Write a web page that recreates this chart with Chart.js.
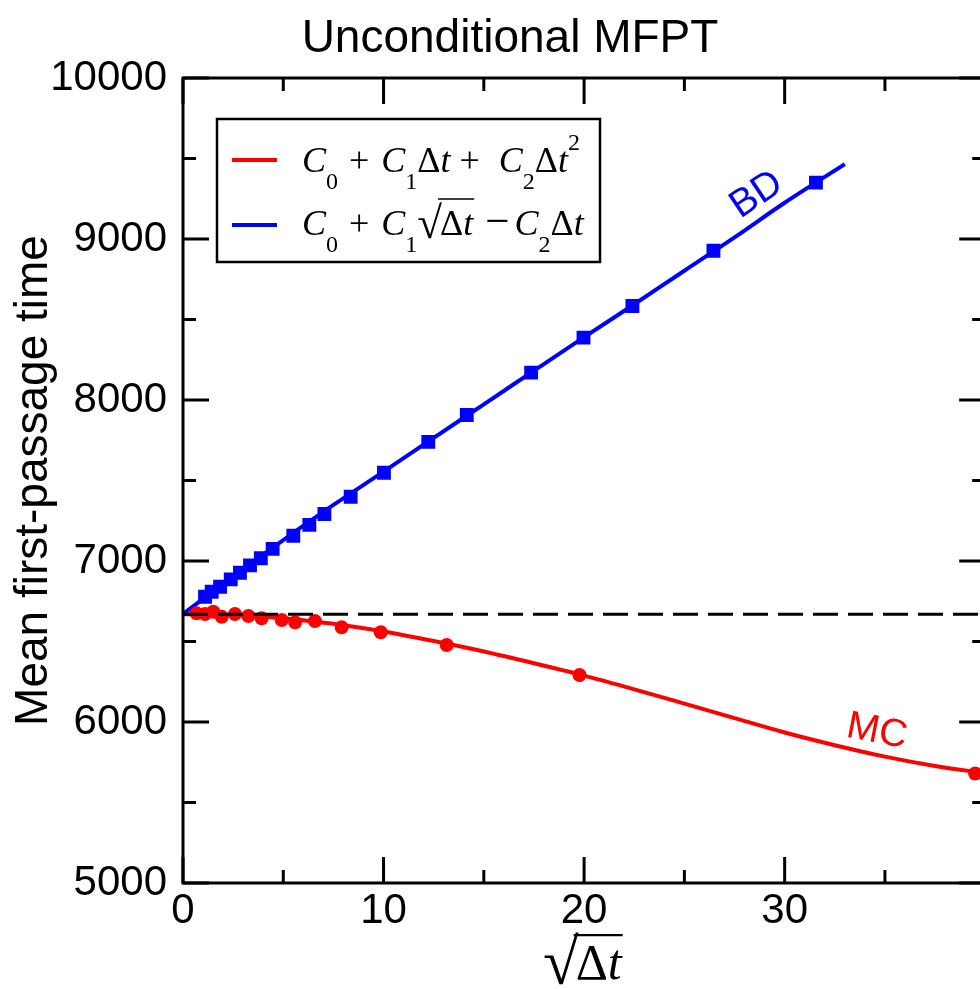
<!DOCTYPE html>
<html>
<head>
<meta charset="utf-8">
<title>Unconditional MFPT</title>
<script src="https://cdn.jsdelivr.net/npm/chart.js@4.4.0/dist/chart.umd.min.js"></script>
<style>
  html, body { margin: 0; padding: 0; background: #fff; overflow: hidden; }
  #wrap { width: 980px; height: 989px; overflow: hidden; }
  canvas { display: block; }
</style>
</head>
<body>
<div id="wrap"><canvas id="c" width="995" height="989"></canvas></div>
<script>
// x is sqrt(dt), y is the mean first-passage time
const bdX = [1.10, 1.43, 1.85, 2.38, 2.84, 3.34, 3.88, 4.47, 5.50, 6.30, 7.05, 8.36, 10.02, 12.23, 14.15, 17.36, 19.97, 22.41, 26.45, 31.56];
const bdY = [6778, 6809, 6840, 6886, 6927, 6973, 7017, 7075, 7157, 7224, 7292, 7399, 7548, 7740, 7907, 8170, 8387, 8584, 8927, 9350];

const mcX = [0.68, 1.10, 1.51, 1.93, 2.59, 3.26, 3.92, 4.92, 5.59, 6.58, 7.91, 9.86, 13.15, 19.77, 39.5];
const mcY = [6675, 6671, 6685, 6654, 6671, 6658, 6644, 6634, 6619, 6627, 6588, 6557, 6478, 6292, 5680];

// fitted curves
const bdFitX = [0, 2.5, 5, 7.5, 10, 12.5, 15, 17.5, 20, 22.5, 25, 27.5, 30, 33];
const bdFitY = [6670, 6905, 7130, 7348, 7555, 7765, 7973, 8182, 8390, 8595, 8803, 9010, 9225, 9465];

const mcFitX = [0, 2.5, 5, 7.5, 10, 12.5, 15, 17.5, 20, 22.5, 25, 27.5, 30, 32.5, 35, 37.5, 40];
const mcFitY = [6670, 6664, 6645, 6610, 6562, 6503, 6438, 6365, 6288, 6203, 6114, 6024, 5935, 5856, 5785, 5727, 5682];

// dt -> 0 limit (C0)
const c0X = [0, 40];
const c0Y = [6670, 6670];

const xTicks = [0, 10, 20, 30];
const yTicks = [5000, 6000, 7000, 8000, 9000, 10000];

const RED = '#ff0000';
const BLUE = '#0000ff';
const SANS = '"Liberation Sans", Arial, Helvetica, sans-serif';
const SERIF = '"Liberation Serif", "Times New Roman", serif';

const pts = (xs, ys) => xs.map((v, i) => ({x: v, y: ys[i]}));

// lays out a little formula: italic C, sub/superscripts, a radical with its bar
function drawMath(ctx, items, x0, base, big, small, barLift) {
  let x = x0;
  let barFrom = null;
  for (const it of items) {
    if (it.gap) { x += it.gap; continue; }
    const sub = it.pos === 'sub', sup = it.pos === 'sup';
    const size = ((sub || sup) ? small : big) * (it.scale || 1);
    ctx.font = (it.i ? 'italic ' : '') + size + 'px ' + SERIF;
    const dy = sub ? big * 0.47 : sup ? -big * 0.62 : (it.dy || 0);
    if (it.bar && barFrom === null) barFrom = x;
    ctx.fillText(it.t, x, base + dy);
    x += ctx.measureText(it.t).width + (it.kern || 0);
    if (it.endBar) {
      ctx.save();
      ctx.lineWidth = Math.max(1.5, big * 0.045);
      ctx.beginPath();
      ctx.moveTo(barFrom - 2, base - barLift);
      ctx.lineTo(x + 1, base - barLift);
      ctx.stroke();
      ctx.restore();
      barFrom = null;
    }
  }
  return x;
}

const formula1 = [
  {t: 'C', i: true}, {t: '0', pos: 'sub'}, {gap: 11}, {t: '+'}, {gap: 12},
  {t: 'C', i: true}, {t: '1', pos: 'sub'}, {t: 'Δ'}, {t: 't', i: true}, {gap: 9}, {t: '+'}, {gap: 19},
  {t: 'C', i: true}, {t: '2', pos: 'sub'}, {t: 'Δ'}, {t: 't', i: true}, {t: '2', pos: 'sup'}
];
const formula2 = [
  {t: 'C', i: true}, {t: '0', pos: 'sub'}, {gap: 11}, {t: '+'}, {gap: 12},
  {t: 'C', i: true}, {t: '1', pos: 'sub'}, {t: '√', scale: 1.25, dy: 3, kern: -2}, {t: 'Δ', bar: true}, {t: 't', i: true, endBar: true},
  {gap: 12}, {t: '−', scale: 1.2}, {gap: 5},
  {t: 'C', i: true}, {t: '2', pos: 'sub'}, {t: 'Δ'}, {t: 't', i: true}
];
const xTitle = [{t: '√', scale: 1.3, dy: 5, kern: -3}, {t: 'Δ', bar: true}, {t: 't', i: true, endBar: true}];

const decor = {
  id: 'decor',
  afterDraw(chart) {
    const {ctx, chartArea: a, scales: {x, y}} = chart;
    ctx.save();
    ctx.strokeStyle = '#000';
    ctx.fillStyle = '#000';
    ctx.lineWidth = 3;
    ctx.lineCap = 'butt';
    const seg = (x1, y1, x2, y2) => { ctx.beginPath(); ctx.moveTo(x1, y1); ctx.lineTo(x2, y2); ctx.stroke(); };

    // frame and inward ticks on all four sides
    ctx.strokeRect(a.left, a.top, a.right - a.left, a.bottom - a.top);
    for (let v = 0; v <= 40; v += 5) {
      const px = x.getPixelForValue(v);
      const len = v % 10 === 0 ? 26 : 13;
      seg(px, a.bottom, px, a.bottom - len);
      seg(px, a.top, px, a.top + len);
    }
    for (let v = 5000; v <= 10000; v += 500) {
      const py = y.getPixelForValue(v);
      const len = v % 1000 === 0 ? 26 : 13;
      seg(a.left, py, a.left + len, py);
      seg(a.right, py, a.right - len, py);
    }

    // title
    ctx.font = '46px ' + SANS;
    ctx.textAlign = 'center';
    ctx.textBaseline = 'alphabetic';
    ctx.fillText('Unconditional MFPT', 510, 52);

    // x axis title
    ctx.textAlign = 'left';
    drawMath(ctx, xTitle, 543, 979, 50, 34, 44);

    // legend box
    const lx = a.left + 34, ly = a.top + 41, lw = 383, lh = 143;
    ctx.lineWidth = 2.5;
    ctx.strokeRect(lx, ly, lw, lh);
    ctx.lineWidth = 4;
    ctx.strokeStyle = RED;
    seg(lx + 15, ly + 41, lx + 60, ly + 41);
    ctx.strokeStyle = BLUE;
    seg(lx + 15, ly + 106, lx + 60, ly + 106);
    ctx.strokeStyle = '#000';
    ctx.fillStyle = '#000';
    drawMath(ctx, formula1, lx + 85, ly + 53, 36, 24, 36);
    drawMath(ctx, formula2, lx + 85, ly + 116, 36, 24, 36);

    // curve labels
    ctx.font = '39px ' + SANS;
    ctx.textAlign = 'center';
    ctx.textBaseline = 'middle';
    ctx.fillStyle = BLUE;
    ctx.save();
    ctx.translate(x.getPixelForValue(28.6), y.getPixelForValue(9273));
    ctx.rotate(-34 * Math.PI / 180);
    ctx.fillText('BD', 0, 0);
    ctx.restore();
    ctx.fillStyle = RED;
    ctx.save();
    ctx.translate(x.getPixelForValue(34.6), y.getPixelForValue(5939));
    ctx.rotate(11 * Math.PI / 180);
    ctx.fillText('MC', 0, 0);
    ctx.restore();

    ctx.restore();
  }
};

new Chart(document.getElementById('c'), {
  type: 'scatter',
  data: {
    datasets: [
      {
        label: 'C0',
        data: pts(c0X, c0Y),
        showLine: true,
        borderColor: '#000',
        borderWidth: 3,
        borderDash: [25, 10],
        pointRadius: 0
      },
      {
        label: 'BD',
        data: pts(bdX, bdY),
        pointStyle: 'rect',
        pointRadius: 9.8,
        backgroundColor: BLUE,
        borderWidth: 0
      },
      {
        label: 'MC',
        data: pts(mcX, mcY),
        pointStyle: 'circle',
        pointRadius: 7,
        backgroundColor: RED,
        borderWidth: 0
      },
      {
        label: 'C0 + C1 sqrt(dt) - C2 dt',
        data: pts(bdFitX, bdFitY),
        showLine: true,
        borderColor: BLUE,
        borderWidth: 4,
        pointRadius: 0,
        cubicInterpolationMode: 'monotone'
      },
      {
        label: 'C0 + C1 dt + C2 dt^2',
        data: pts(mcFitX, mcFitY),
        showLine: true,
        borderColor: RED,
        borderWidth: 4,
        pointRadius: 0,
        cubicInterpolationMode: 'monotone'
      }
    ]
  },
  options: {
    responsive: false,
    animation: false,
    layout: { padding: { top: 78, right: 5, left: 0, bottom: 0 } },
    plugins: {
      legend: { display: false },
      tooltip: { enabled: false }
    },
    scales: {
      x: {
        type: 'linear',
        min: 0,
        max: 40,
        afterBuildTicks: s => { s.ticks = xTicks.map(v => ({value: v})); },
        afterFit: s => { s.height = 106; },
        grid: { display: false },
        border: { display: false },
        ticks: {
          color: '#000',
          font: { family: SANS, size: 42 },
          padding: -5,
          maxRotation: 0,
          autoSkip: false
        }
      },
      y: {
        type: 'linear',
        min: 5000,
        max: 10000,
        afterBuildTicks: s => { s.ticks = yTicks.map(v => ({value: v})); },
        afterFit: s => { s.width = 183; },
        grid: { display: false },
        border: { display: false },
        title: {
          display: true,
          text: 'Mean first-passage time',
          color: '#000',
          font: { family: SANS, size: 46 },
          padding: { top: 7, bottom: 0 }
        },
        ticks: {
          color: '#000',
          font: { family: SANS, size: 42 },
          padding: 8,
          autoSkip: false,
          callback: v => String(v)
        }
      }
    }
  },
  plugins: [decor]
});
</script>
</body>
</html>
